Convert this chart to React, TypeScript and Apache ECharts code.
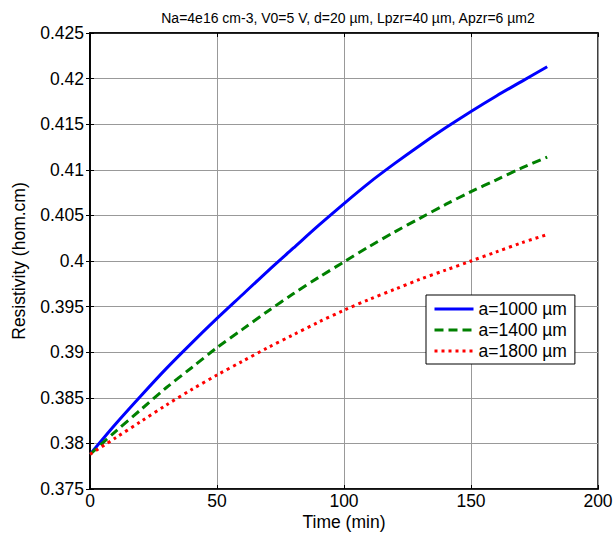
import React, { useEffect, useRef } from "react";
import * as echarts from "echarts";

const times = [0, 10, 20, 30, 40, 50, 60, 70, 80, 90, 100, 110, 120, 130, 140, 150, 160, 170, 180];
const a1000 = [0.3788, 0.3821, 0.3852, 0.3882, 0.391, 0.3937, 0.3963, 0.3989, 0.4014, 0.4039, 0.4063, 0.4086, 0.4107, 0.4127, 0.4146, 0.4164, 0.4181, 0.4197, 0.4213];
const a1400 = [0.3788, 0.3813, 0.3837, 0.3861, 0.3883, 0.3905, 0.3925, 0.3945, 0.3964, 0.3982, 0.3999, 0.4016, 0.4032, 0.4047, 0.4062, 0.4076, 0.4089, 0.4102, 0.4114];
const a1800 = [0.3788, 0.3806, 0.3824, 0.3842, 0.3859, 0.3875, 0.389, 0.3905, 0.3919, 0.3933, 0.3946, 0.3958, 0.3969, 0.398, 0.399, 0.4, 0.401, 0.402, 0.4029];
const seriesNames = ["a=1000 µm", "a=1400 µm", "a=1800 µm"];
const titleText = "Na=4e16 cm-3, V0=5 V, d=20 µm, Lpzr=40 µm, Apzr=6 µm2";

export default function App() {
  const ref = useRef<HTMLDivElement>(null);
  useEffect(() => {
    if (!ref.current) return;
    const chart = echarts.init(ref.current, undefined, { renderer: "svg" });
    const font = "Arial, 'Liberation Sans', sans-serif";
    const pair = (arr: number[]) => times.map((t, i) => [t, arr[i]]);
    const baseX = { type: "value" as const, min: 0, max: 200, interval: 50 };
    const baseY = { type: "value" as const, min: 0.375, max: 0.425, interval: 0.005 };
    const tick = { inside: true, length: 4, lineStyle: { color: "#000" } };
    const axLine = { lineStyle: { color: "#000", width: 1.5 } };
    chart.setOption({
      animation: false,
      backgroundColor: "#fff",
      title: {
        text: titleText,
        left: 343,
        textAlign: "center",
        top: 6,
        textStyle: { fontFamily: font, fontSize: 14, fontWeight: "normal", color: "#000" },
      },
      grid: {
        left: 90,
        right: 17,
        top: 33,
        bottom: 44,
        containLabel: false,
        outerBoundsMode: "none",
        show: true,
        borderColor: "#000",
        borderWidth: 1.5,
      },
      legend: {
        left: 426,
        top: 295,
        orient: "vertical",
        itemWidth: 39,
        itemHeight: 10,
        itemGap: 3,
        padding: [5, 8, 4, 7],
        backgroundColor: "#fff",
        borderColor: "#000",
        borderWidth: 1,
        borderRadius: 0,
        itemStyle: { opacity: 0, borderWidth: 0 },
        lineStyle: { width: 3 },
        textStyle: { fontFamily: font, fontSize: 17.5, color: "#000" },
        data: seriesNames,
      },
      xAxis: [
        {
          ...baseX,
          name: "Time (min)",
          nameLocation: "middle",
          nameGap: 24,
          nameMoveOverlap: false,
          nameTextStyle: { fontFamily: font, fontSize: 17.5, color: "#000", lineHeight: 18 },
          axisLine: axLine,
          axisTick: tick,
          axisLabel: { fontFamily: font, fontSize: 17.5, color: "#000", margin: 3, lineHeight: 18 },
          splitLine: { show: true, lineStyle: { color: "#999", width: 1 } },
        },
        {
          ...baseX,
          position: "top",
          axisLine: axLine,
          axisTick: tick,
          axisLabel: { show: false },
          splitLine: { show: false },
        },
      ],
      yAxis: [
        {
          ...baseY,
          name: "Resistivity (hom.cm)",
          nameLocation: "middle",
          nameGap: 62,
          nameMoveOverlap: false,
          nameTextStyle: { fontFamily: font, fontSize: 17.5, color: "#000" },
          axisLine: axLine,
          axisTick: tick,
          axisLabel: {
            fontFamily: font,
            fontSize: 17.5,
            color: "#000",
            margin: 6,
            formatter: (v: number) => String(parseFloat(v.toFixed(3))),
          },
          splitLine: { show: true, lineStyle: { color: "#999", width: 1 } },
        },
        {
          ...baseY,
          position: "right",
          axisLine: axLine,
          axisTick: tick,
          axisLabel: { show: false },
          splitLine: { show: false },
        },
      ],
      series: [
        {
          name: seriesNames[0],
          type: "line",
          data: pair(a1000),
          symbol: "none",
          smooth: 0.3,
          lineStyle: { color: "#0000ff", width: 3, type: "solid" },
          itemStyle: { color: "#0000ff" },
        },
        {
          name: seriesNames[1],
          type: "line",
          data: pair(a1400),
          symbol: "none",
          smooth: 0.3,
          lineStyle: { color: "#008000", width: 3, type: [9, 5] },
          itemStyle: { color: "#008000" },
        },
        {
          name: seriesNames[2],
          type: "line",
          data: pair(a1800),
          symbol: "none",
          smooth: 0.3,
          lineStyle: { color: "#ff0000", width: 3, type: [3, 4] },
          itemStyle: { color: "#ff0000" },
        },
      ],
    });
    return () => chart.dispose();
  }, []);
  return <div ref={ref} style={{ width: 615, height: 533, position: "absolute", left: 0, top: 0 }} />;
}
